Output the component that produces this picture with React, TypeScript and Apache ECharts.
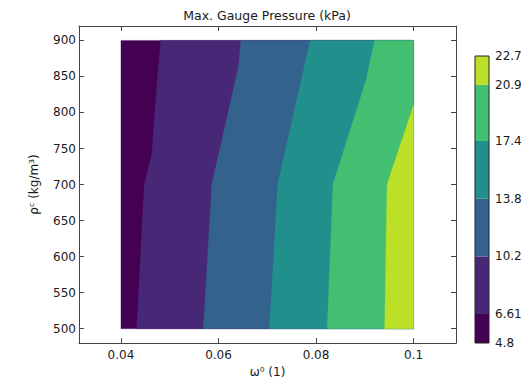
import React, { useEffect, useRef } from "react";
import * as echarts from "echarts";

// ---- data ----
const titleText = "Max. Gauge Pressure (kPa)";
const xTicks = [0.04, 0.06, 0.08, 0.1];
const yTicks = [500, 550, 600, 650, 700, 750, 800, 850, 900];
const xDomain = [0.04, 0.1];
const yDomain = [500, 900];
const levels = [4.8, 6.61, 10.2, 13.8, 17.4, 20.9, 22.7];
const bandColors = ["#440154", "#482777", "#33638d", "#21908c", "#43bf71", "#bcdf27"];
// contour boundaries (x = omega, y = rho), bottom to top
const boundary661 = [[0.04322, 500], [0.04478, 700], [0.04554, 721], [0.0463, 741], [0.04745, 846], [0.04815, 900]];
const boundary102 = [[0.0569, 500], [0.05862, 700], [0.06409, 863], [0.06458, 900]];
const boundary138 = [[0.07045, 500], [0.07213, 700], [0.07881, 900]];
const boundary174 = [[0.0823, 500], [0.08347, 700], [0.09031, 846], [0.092, 900]];
const boundary209 = [[0.09407, 500], [0.09456, 700], [0.1, 810.5]];
const boundaries = [boundary661, boundary102, boundary138, boundary174, boundary209];

const FONT = "DejaVu Sans";
const TXT = "#1a1a1a";
const AX = "#444";
const FS = 12;

export default function App() {
  const ref = useRef<HTMLDivElement>(null);
  useEffect(() => {
    if (!ref.current) return;
    const chart = echarts.init(ref.current, undefined, { renderer: "svg" });
    const axisCommon = {
      axisLine: { show: true, onZero: false, lineStyle: { color: AX, width: 1 } },
      splitLine: { show: false },
    };
    const option: any = {
      animation: false,
      backgroundColor: "#fff",
      textStyle: { fontFamily: FONT },
      graphic: [
        {
          type: "text",
          x: 267,
          y: 15,
          style: {
            text: titleText,
            textAlign: "center",
            textVerticalAlign: "middle",
            fontFamily: FONT,
            fontSize: 12.5,
            fill: TXT,
          },
        },
      ],
      grid: [
        { left: 79, right: 71, top: 26, bottom: 34 },
        { left: 475, width: 14, top: 56, height: 287 },
      ],
      xAxis: [
        {
          type: "value", gridIndex: 0, position: "bottom", min: 0.0314, max: 0.1087,
          ...axisCommon,
          axisTick: { show: true, inside: true, length: 5, customValues: xTicks, lineStyle: { color: AX } },
          axisLabel: { customValues: xTicks, formatter: (v: number) => String(+v.toFixed(2)), color: TXT, fontSize: FS, fontFamily: FONT, margin: 6 },
          name: "ω⁰ (1)", nameLocation: "middle", nameGap: 21,
          nameTextStyle: { color: TXT, fontSize: FS, fontFamily: FONT },
        },
        {
          type: "value", gridIndex: 0, position: "top", min: 0.0314, max: 0.1087,
          ...axisCommon,
          axisTick: { show: true, inside: true, length: 5, customValues: xTicks, lineStyle: { color: AX } },
          axisLabel: { show: false },
        },
        { type: "value", gridIndex: 1, min: 0, max: 1, show: false },
      ],
      yAxis: [
        {
          type: "value", gridIndex: 0, position: "left", min: 480, max: 920,
          ...axisCommon,
          axisTick: { show: true, inside: true, length: 5, customValues: yTicks, lineStyle: { color: AX } },
          axisLabel: { customValues: yTicks, color: TXT, fontSize: FS, fontFamily: FONT, margin: 3 },
          name: "ρᶜ (kg/m³)", nameLocation: "middle", nameGap: 39, nameRotate: 90,
          nameTextStyle: { color: TXT, fontSize: FS, fontFamily: FONT },
        },
        {
          type: "value", gridIndex: 0, position: "right", min: 480, max: 920,
          ...axisCommon,
          axisTick: { show: true, inside: true, length: 5, customValues: yTicks, lineStyle: { color: AX } },
          axisLabel: { show: false },
        },
        {
          type: "value", gridIndex: 1, position: "right", min: 4.8, max: 22.7,
          axisLine: { show: false }, splitLine: { show: false },
          axisTick: { show: false },
          axisLabel: { customValues: levels, formatter: (v: number) => String(v), color: TXT, fontSize: FS, fontFamily: FONT, margin: 6 },
        },
      ],
      series: [
        {
          type: "custom",
          coordinateSystem: "cartesian2d",
          xAxisIndex: 0,
          yAxisIndex: 0,
          clip: true,
          data: bandColors.map((_, i) => [i]),
          renderItem: (params: any, api: any) => {
            const k = api.value(0);
            let pts: number[][];
            if (k === 0) {
              pts = [
                api.coord([xDomain[0], yDomain[0]]),
                api.coord([xDomain[0], yDomain[1]]),
                api.coord([xDomain[1], yDomain[1]]),
                api.coord([xDomain[1], yDomain[0]]),
              ];
            } else {
              const b = boundaries[k - 1];
              pts = b.map((p) => api.coord(p));
              const last = b[b.length - 1];
              if (last[1] >= yDomain[1]) pts.push(api.coord([xDomain[1], yDomain[1]]));
              pts.push(api.coord([xDomain[1], yDomain[0]]));
            }
            return { type: "polygon", shape: { points: pts }, style: { fill: bandColors[k], stroke: bandColors[k], lineWidth: 0.3 } };
          },
        },
        {
          type: "custom",
          coordinateSystem: "cartesian2d",
          xAxisIndex: 2,
          yAxisIndex: 2,
          data: bandColors.map((_, i) => [i]),
          renderItem: (params: any, api: any) => {
            const k = api.value(0);
            const p0 = api.coord([0, levels[k]]);
            const p1 = api.coord([1, levels[k + 1]]);
            return {
              type: "rect",
              shape: { x: p0[0], y: p1[1], width: p1[0] - p0[0], height: p0[1] - p1[1] },
              style: { fill: bandColors[k] },
            };
          },
        },
        {
          type: "custom",
          coordinateSystem: "cartesian2d",
          xAxisIndex: 2,
          yAxisIndex: 2,
          z: 5,
          data: [[0]],
          renderItem: (params: any, api: any) => {
            const p0 = api.coord([0, levels[0]]);
            const p1 = api.coord([1, levels[levels.length - 1]]);
            return {
              type: "rect",
              shape: { x: p0[0], y: p1[1], width: p1[0] - p0[0], height: p0[1] - p1[1] },
              style: { fill: "none", stroke: "#222", lineWidth: 1 },
            };
          },
        },
      ],
    };
    chart.setOption(option);
    return () => chart.dispose();
  }, []);
  return <div ref={ref} style={{ width: 527, height: 383, position: "absolute", left: 0, top: 0 }} />;
}
